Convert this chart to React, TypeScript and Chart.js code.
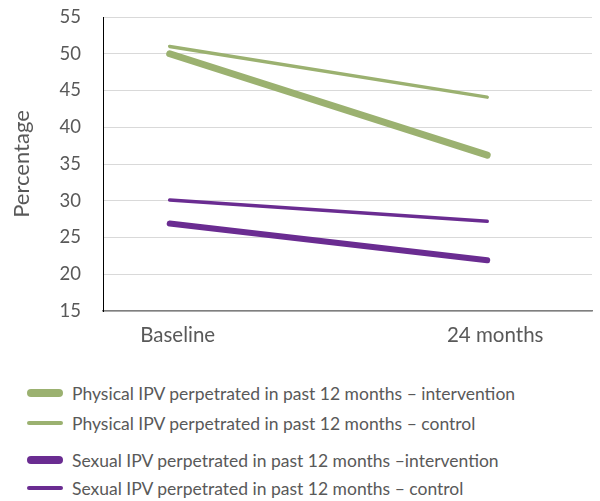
import React, { useEffect, useRef } from "react";
import { Chart, registerables } from "chart.js";

Chart.register(...registerables);

const categories = ["Baseline", "24 months"];
const seriesLabels = [
  "Physical IPV perpetrated in past 12 months – intervention",
  "Physical IPV perpetrated in past 12 months – control",
  "Sexual IPV perpetrated in past 12 months –intervention",
  "Sexual IPV perpetrated in past 12 months – control",
];
const physicalIntervention = [50, 36.2];
const physicalControl = [51, 44.1];
const sexualIntervention = [26.9, 21.9];
const sexualControl = [30.1, 27.2];
const yTicks = [15, 20, 25, 30, 35, 40, 45, 50, 55];

const GREEN = "#9bb170";
const PURPLE = "#6a2c91";
const FONT = "Lato, 'Open Sans', sans-serif";

const seriesValues = [physicalIntervention, physicalControl, sexualIntervention, sexualControl];
const seriesColors = [GREEN, GREEN, PURPLE, PURPLE];
const seriesWidths = [7, 3.5, 6, 3.5];
const legendWidths = [8, 4, 8, 4];

export default function App() {
  const ref = useRef<HTMLCanvasElement | null>(null);
  useEffect(() => {
    if (!ref.current) return;
    const chart = new Chart(ref.current, {
      type: "line",
      data: {
        datasets: seriesValues.map((vals, i) => ({
          label: seriesLabels[i],
          data: vals.map((v, j) => ({ x: j, y: v })),
          borderColor: seriesColors[i],
          backgroundColor: seriesColors[i],
          borderWidth: seriesWidths[i],
          borderCapStyle: "round" as const,
          pointRadius: 0,
          tension: 0,
        })),
      },
      options: {
        animation: false,
        responsive: false,
        layout: { autoPadding: false, padding: { top: 17, right: 8, left: 0, bottom: 0 } },
        plugins: { legend: { display: false }, tooltip: { enabled: false } },
        scales: {
          x: {
            type: "linear",
            min: -0.21,
            max: 1.33,
            afterBuildTicks: (s: any) => {
              s.ticks = categories.map((_, i) => ({ value: i }));
            },
            afterFit: (s: any) => {
              s.height = 49;
              s.paddingLeft = 0;
              s.paddingRight = 0;
            },
            ticks: {
              callback: (v: any) => categories[v as number] ?? "",
              color: "#595959",
              font: { family: FONT, size: 20.5 },
              padding: 12,
              labelOffset: 8,
              maxRotation: 0,
            },
            grid: { display: false, drawTicks: false },
            border: { color: "#7f7f7f", width: 1.5 },
          },
          y: {
            min: 15,
            max: 55,
            afterBuildTicks: (s: any) => {
              s.ticks = yTicks.map((v) => ({ value: v }));
            },
            afterFit: (s: any) => {
              s.width = 103;
              s.paddingTop = 0;
              s.paddingBottom = 0;
            },
            ticks: {
              color: "#595959",
              font: { family: FONT, size: 18.5 },
              padding: 22,
            },
            grid: { color: "#d9d9d9", lineWidth: 1, drawTicks: false },
            border: { color: "#000000", width: 1 },
            title: {
              display: true,
              text: "Percentage",
              color: "#595959",
              font: { family: FONT, size: 22 },
              padding: { top: 9, bottom: 0 },
            },
          },
        },
      },
    });
    return () => chart.destroy();
  }, []);

  return (
    <div style={{ position: "absolute", left: 0, top: 0, width: 600, height: 501, background: "#fff" }}>
      <canvas ref={ref} width={600} height={360} style={{ display: "block" }} />
      {seriesLabels.map((lab, i) => {
        const tops = [393, 423, 460, 488];
        return (
          <div
            key={i}
            style={{
              position: "absolute",
              left: 27,
              top: tops[i] - 12,
              height: 24,
              display: "flex",
              alignItems: "center",
              fontFamily: FONT,
              fontSize: 17.5,
              color: "#595959",
              whiteSpace: "nowrap",
            }}
          >
            <span
              style={{
                display: "inline-block",
                width: 36,
                height: legendWidths[i],
                borderRadius: legendWidths[i] / 2,
                background: seriesColors[i],
                marginRight: 9,
              }}
            />
            {lab}
          </div>
        );
      })}
    </div>
  );
}
